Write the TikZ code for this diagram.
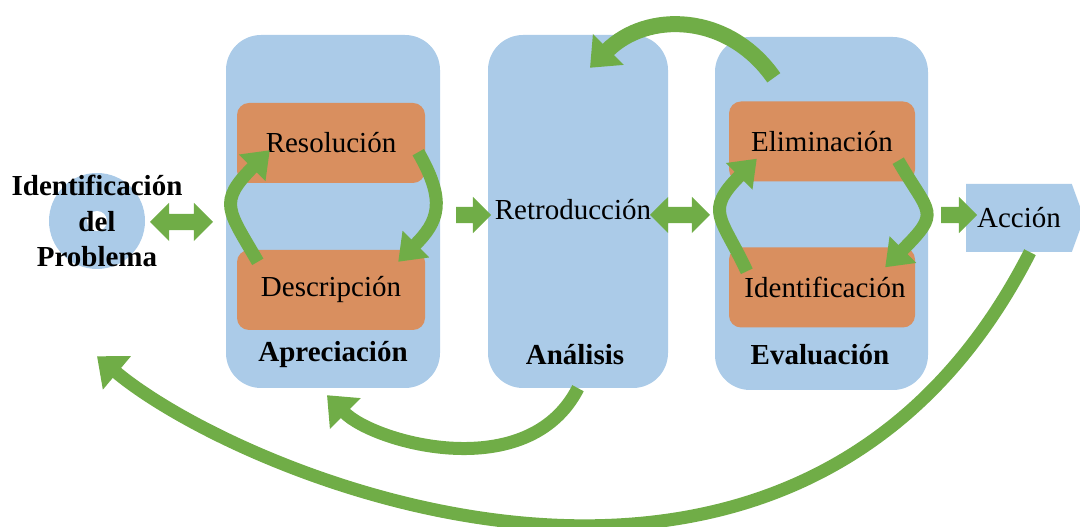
\documentclass[tikz,border=0pt]{standalone}
\usepackage{fontspec}
\setmainfont{Liberation Serif}
\usetikzlibrary{arrows.meta,shapes.arrows,shapes.symbols}
\definecolor{paneblue}{HTML}{ABCBE8}
\definecolor{boxorange}{HTML}{D98F5F}
\definecolor{arrgreen}{HTML}{70AD47}
\tikzset{
    panel/.style = {fill=paneblue, rounded corners=35pt,
        minimum height=353pt},
    subbox/.style = {fill=boxorange, rounded corners=12pt,
        minimum height=80pt,
        minimum width=188pt},
    paneltitle/.style = {font=\fontsize{29}{35}\selectfont\bfseries},
    fwd/.style = {single arrow, fill=arrgreen, single arrow head extend=10pt, inner xsep=0pt, inner ysep=8pt},
    twoway/.style = {double arrow, fill=arrgreen, double arrow head extend=11pt, inner xsep=0pt, inner ysep=8pt},
    cyc/.style = {draw=arrgreen, line width=13pt, -{Triangle[length=25pt,width=36pt]}},
    loopback/.style = {draw=arrgreen, line width=13pt, -{Triangle[length=26pt,width=42pt]}}
}
\begin{document}
\begin{tikzpicture}[x=1pt, y=1pt, font=\fontsize{29}{35.5}\selectfont]
                \useasboundingbox (0,0) rectangle (1080,527);
                \node[circle, fill=paneblue, minimum size=96pt, inner sep=0pt] (prob) at (97,306) {};
                \fill[white] (prob.center) circle (10);
                \node[align=center, font=\fontsize{29}{35.5}\selectfont\bfseries] (probtxt) at (97,306) {Identificación\\del\\Problema};
                \node[panel, minimum width=214pt] (apre) at (333,315.5) {};
                \node[panel, minimum width=180pt] (anal) at (578,315.5) {};
                \node[panel, minimum width=213pt] (eval) at (821.5,313.5) {};
                \node[subbox] (reso) at (331,384) {Resolución};
                \node[subbox] (desc) at (331,237) {Descripción};
                \node[subbox, minimum width=186pt] (elim) at (822,385.5) {Eliminación};
                \node[subbox, minimum width=186pt] (iden) at (822,239.5) {\hspace{6pt}Identificación};
                \node (retro) at (573,317) {Retroducción};
                \node[paneltitle] (apretitle) at (333,172) {Apreciación};
                \node[paneltitle] (analtitle) at (575,172) {Análisis};
                \node[paneltitle] (evaltitle) at (820,172) {Evaluación};
                \node[signal, signal to=east, signal pointer angle=140, fill=paneblue, minimum width=118pt, minimum height=68pt] (acc) at (1019,309) {Acción};
                \node[twoway, minimum height=63pt] (dbla) at (181.5,305) {};
                \node[fwd, minimum height=35pt] (fwda) at (469.5,312) {};
                \node[twoway, minimum height=60pt, double arrow head extend=10pt] (dblb) at (680,312) {};
                \node[fwd, minimum height=36pt] (fwdb) at (955,312) {};
                \draw[cyc] ([shift={(21,-12)}]desc.north west) .. controls +(120:60) and +(225:74) .. ([shift={(33,33)}]reso.south west);
                \draw[cyc] ([shift={(-7,31)}]reso.south east) .. controls +(300:57) and +(45:57) .. ([shift={(-27,-12)}]desc.north east);
                \draw[cyc] ([shift={(18,-24)}]iden.north west) .. controls +(115:60) and +(225:75) .. ([shift={(28,23)}]elim.south west);
                \draw[cyc] ([shift={(-17,21)}]elim.south east) .. controls +(300:63) and +(45:80) .. ([shift={(-30,-20)}]iden.north east);
                \draw[loopback, line width=16pt] ([shift={(59,-41)}]eval.north west) .. controls +(125:80) and +(45:80) .. ([shift={(12,-33)}]anal.north);
                \draw[loopback] (anal.south) .. controls +(243:109) and +(315:68) .. ([shift={(-6,-7)}]apre.south);
                \draw[loopback] ([xshift=11]acc.south) .. controls +(243:515) and +(-40:189) .. ([yshift=-87]prob.south);
            \end{tikzpicture}
\end{document}
